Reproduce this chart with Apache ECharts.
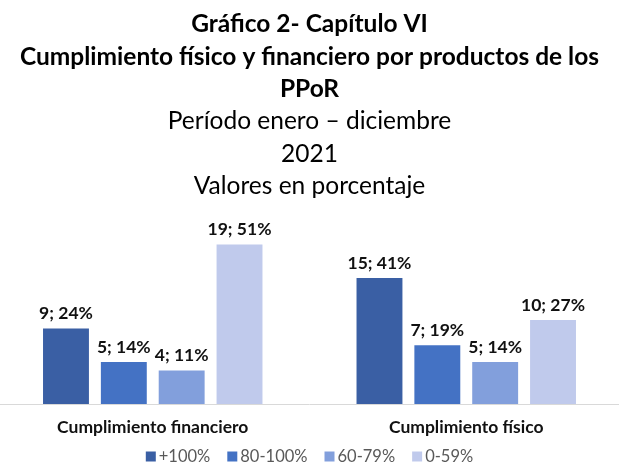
<!DOCTYPE html>
<html>
<head>
<meta charset="utf-8">
<script src="https://cdn.jsdelivr.net/npm/echarts@6/dist/echarts.min.js"></script>
<style>html,body{margin:0;padding:0;background:#fff;}#c{width:619px;height:465px;}</style>
</head>
<body>
<div id="c"></div>
<script>
var categories = ['Cumplimiento financiero', 'Cumplimiento físico'];
var seriesNames = ['+100%', '80-100%', '60-79%', '0-59%'];
var counts = [
  [9, 15],
  [5, 7],
  [4, 5],
  [19, 10]
];
var percents = [
  [24, 41],
  [14, 19],
  [11, 14],
  [51, 27]
];
var colors = ['#3A5FA4', '#4472C4', '#829FDC', '#C0CAEC'];
var titleLines = [
  {text: 'Gráfico 2- Capítulo VI', bold: true},
  {text: 'Cumplimiento físico y financiero por productos de los', bold: true},
  {text: 'PPoR', bold: true},
  {text: 'Período enero – diciembre', bold: false},
  {text: '2021', bold: false},
  {text: 'Valores en porcentaje', bold: false}
];

var chart = echarts.init(document.getElementById('c'), null, {renderer: 'canvas'});
var titles = titleLines.map(function (t, i) {
  return {
    text: t.text,
    left: 'center',
    top: 12 + i * 32.3,
    padding: 0,
    textStyle: {
      fontFamily: 'Lato',
      fontWeight: t.bold ? 'bold' : 'normal',
      fontSize: 24.5,
      color: '#000'
    }
  };
});
var series = seriesNames.map(function (name, s) {
  return {
    name: name,
    type: 'bar',
    barGap: '26%',
    barCategoryGap: '30%',
    itemStyle: {color: colors[s]},
    data: counts[s].map(function (v, k) {
      return {value: v, pct: percents[s][k]};
    }),
    label: {
      show: true,
      position: 'top',
      distance: 6,
      fontFamily: 'Lato',
      fontWeight: 'bold',
      fontSize: 17.5,
      color: '#111',
      formatter: function (p) { return p.data.value + '; ' + p.data.pct + '%'; }
    }
  };
});
chart.setOption({
  animation: false,
  title: titles,
  color: colors,
  legend: {
    bottom: 0,
    left: 'center',
    padding: 0,
    itemWidth: 10,
    itemHeight: 10,
    itemGap: 17,
    icon: 'rect',
    textStyle: {fontFamily: 'Lato', fontSize: 16.5, color: '#595959', padding: [0, 0, 0, -2]},
    data: seriesNames
  },
  grid: {left: -4, right: -4, top: 236, bottom: 61, containLabel: false, outerBoundsMode: 'none'},
  xAxis: {
    type: 'category',
    data: categories,
    axisLine: {lineStyle: {color: '#D9D9D9', width: 1}},
    axisTick: {show: false},
    axisLabel: {fontFamily: 'Lato', fontWeight: 'bold', fontSize: 17.5, color: '#111', margin: 14}
  },
  yAxis: {
    type: 'value',
    min: 0,
    max: 20,
    show: false,
    splitLine: {show: false}
  },
  series: series
});
</script>
</body>
</html>
